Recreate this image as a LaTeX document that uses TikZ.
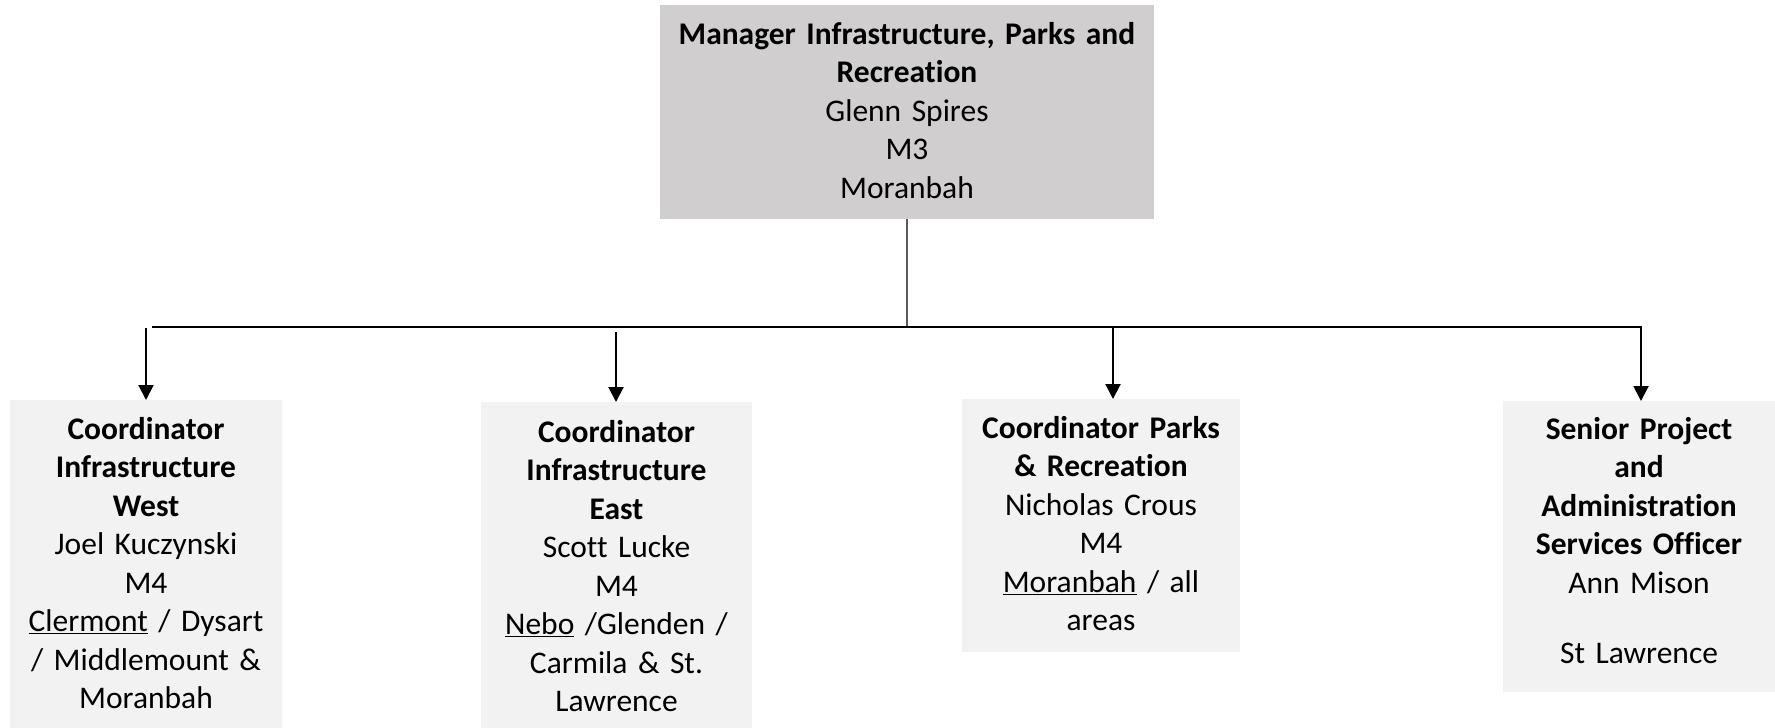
\documentclass[tikz,border=0pt]{standalone}
\usepackage{fontspec}
\setmainfont{Carlito}[Ligatures={NoCommon}]
\usetikzlibrary{arrows.meta}
\definecolor{mgrfill}{HTML}{D0CECE}
\definecolor{staffill}{HTML}{F2F2F2}
\definecolor{stemgrey}{HTML}{595959}
\begin{document}
\begin{tikzpicture}[x=1pt,y=1pt,
  orgbox/.style={inner sep=0pt, align=center, anchor=north,
    font=\fontsize{31.5pt}{38.5pt}\selectfont},
  mgrbox/.style={orgbox, fill=mgrfill},
  staffbox/.style={orgbox, fill=staffill},
  busline/.style={line width=1.5pt},
  stemline/.style={line width=1.5pt, draw=stemgrey},
  downarrow/.style={line width=2pt, -{Triangle[width=15pt,length=15pt]}}
]
\useasboundingbox (0,0) rectangle (1775,-728);

% manager
\node[mgrbox, text width=494pt, text height=39pt, text depth=175pt] (mgr) at (907,-5)
  {\textbf{Manager Infrastructure, Parks and}\\\textbf{Recreation}\\Glenn Spires\\M3\\Moranbah};

% direct reports
\node[staffbox, text width=272pt, text height=39pt, text depth=289pt] (west) at (146,-400)
  {\textbf{Coordinator}\\\textbf{Infrastructure}\\\textbf{West}\\Joel Kuczynski\\M4\\\underline{Clermont} / Dysart\\/ Middlemount \&\\Moranbah};
\node[staffbox, text width=271pt, text height=40pt, text depth=286pt] (east) at (616.5,-402)
  {\textbf{Coordinator}\\\textbf{Infrastructure}\\\textbf{East}\\Scott Lucke\\M4\\\underline{Nebo} /Glenden /\\Carmila \& St.\\Lawrence};
\node[staffbox, text width=278pt, text height=39pt, text depth=214pt] (parks) at (1101,-399)
  {\textbf{Coordinator Parks}\\\textbf{\& Recreation}\\Nicholas Crous\\M4\\\underline{Moranbah} / all\\areas};
\node[staffbox, text width=272pt, text height=38pt, text depth=253pt] (admin) at (1639,-401)
  {\textbf{Senior Project}\\\textbf{and}\\\textbf{Administration}\\\textbf{Services Officer}\\Ann Mison\\[31.5pt]St Lawrence};

% connectors
\coordinate (hub) at (907,-327);
\coordinate (busL) at (152,-327);
\coordinate (busR) at (1642,-327);
\draw[stemline] (mgr.south) -- (hub);
\draw[busline] (busL) -- (busR);

\coordinate (s1) at (146,-328);
\coordinate (s2) at (616,-332);
\coordinate (s3) at (1113,-328);
\coordinate (s4) at (1641,-328);
\draw[downarrow] (s1) -- (s1 |- west.north);
\draw[downarrow] (s2) -- (s2 |- east.north);
\draw[downarrow] (s3) -- (s3 |- parks.north);
\draw[downarrow] (s4) -- (s4 |- admin.north);
\end{tikzpicture}
\end{document}
